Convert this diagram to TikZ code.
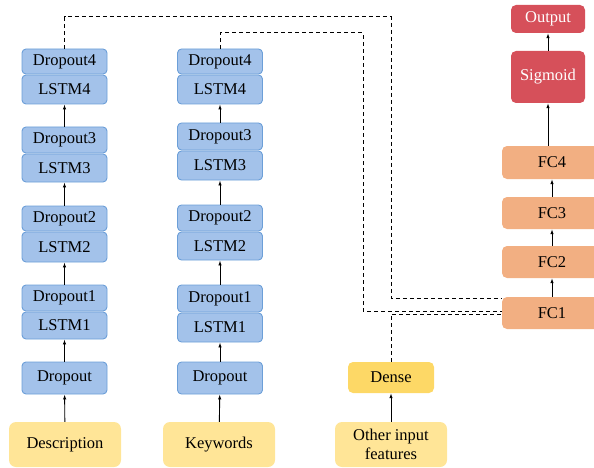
\documentclass[tikz,border=0pt]{standalone}
\usepackage{fontspec}
\setmainfont{Liberation Serif}
\usepackage{tikz}
\usetikzlibrary{arrows.meta}

\definecolor{lstmblue}{HTML}{A3C2EA}
\definecolor{lstmedge}{HTML}{6C9FD8}
\definecolor{fcorange}{HTML}{F2AF82}
\definecolor{outred}{HTML}{D6505A}
\definecolor{inyellow}{HTML}{FFE597}
\definecolor{denseyellow}{HTML}{FDD866}

\tikzset{
  layer/.style={draw=lstmedge, line width=0.9pt, fill=lstmblue, rounded corners=4pt,
                minimum width=85pt, inner sep=0pt},
  fcbox/.style={fill=fcorange, rounded corners=5pt, minimum width=100pt, minimum height=32pt, inner sep=0pt},
  redbox/.style={fill=outred, rounded corners=5pt, minimum width=74pt, inner sep=0pt, text=white},
  inbox/.style={fill=inyellow, rounded corners=7pt, minimum width=112pt, minimum height=45pt,
                inner sep=0pt, align=center},
  skip/.style={dashed, dash pattern=on 4pt off 3pt, line width=1pt},
  flow/.style={->, line width=0.9pt}
}

\begin{document}
\begin{tikzpicture}[x=1pt, y=-1pt, >={Latex[length=5pt,width=3.5pt]},
  font=\fontsize{16.5}{19}\selectfont]
\useasboundingbox (0,0) rectangle (594,468);

% description branch
\node[layer, minimum height=25pt] (dd4) at (64.5,61.5) {Dropout4};
\node[layer, minimum height=29pt] (dl4) at (64.5,89.5) {LSTM4};
\node[layer, minimum height=26pt] (dd3) at (64.5,140) {Dropout3};
\node[layer, minimum height=28pt] (dl3) at (64.5,168) {LSTM3};
\node[layer, minimum height=25pt] (dd2) at (64.5,218.5) {Dropout2};
\node[layer, minimum height=30pt] (dl2) at (64.5,247) {LSTM2};
\node[layer, minimum height=26pt] (dd1) at (64.5,298) {Dropout1};
\node[layer, minimum height=27pt] (dl1) at (64.5,325.5) {LSTM1};
\node[layer, minimum height=32pt] (dd0) at (64.5,378) {Dropout};
\node[inbox] (desc) at (65,444.5) {Description};

% keywords branch
\node[layer, minimum height=25pt] (kd4) at (220,61.5) {Dropout4};
\node[layer, minimum height=29pt] (kl4) at (220,89.5) {LSTM4};
\node[layer, minimum height=27pt] (kd3) at (220,136.5) {Dropout3};
\node[layer, minimum height=29pt] (kl3) at (220,165.5) {LSTM3};
\node[layer, minimum height=26pt] (kd2) at (220,218) {Dropout2};
\node[layer, minimum height=28pt] (kl2) at (220,246) {LSTM2};
\node[layer, minimum height=27pt] (kd1) at (220,298.5) {Dropout1};
\node[layer, minimum height=29pt] (kl1) at (220,327.5) {LSTM1};
\node[layer, minimum height=32pt] (kd0) at (220,378) {Dropout};
\node[inbox] (keyw) at (219,444.5) {Keywords};

% other features
\node[fill=denseyellow, rounded corners=5pt, minimum width=86pt, minimum height=31pt, inner sep=0pt]
  (dense) at (391,377.5) {Dense};
\node[inbox] (other) at (391,444.5) {Other input\\features};

% head
\node[redbox, minimum height=28pt] (out) at (548,19) {Output};
\node[redbox, minimum height=52pt] (sig) at (548,77) {Sigmoid};
\node[fcbox, minimum height=33pt] (fc4) at (552,162.5) {FC4};
\node[fcbox] (fc3) at (552,213) {FC3};
\node[fcbox] (fc2) at (552,262) {FC2};
\node[fcbox] (fc1) at (552,313) {FC1};

% arrows
\draw[flow] (desc) -- (dd0);
\draw[flow] (dd0) -- (dl1);
\draw[flow] (dd1) -- (dl2);
\draw[flow] (dd2) -- (dl3);
\draw[flow] (dd3) -- (dl4);
\draw[flow] (keyw) -- (kd0);
\draw[flow] (kd0) -- (kl1);
\draw[flow] (kd1) -- (kl2);
\draw[flow] (kd2) -- (kl3);
\draw[flow] (kd3) -- (kl4);
\draw[flow] (other) -- (dense);
\draw[flow] (fc1) -- (fc2);
\draw[flow] (fc2) -- (fc3);
\draw[flow] (fc3) -- (fc4);
\draw[flow] (fc4.north -| sig.south) -- (sig);
\draw[flow] (sig) -- (out);

% dashed skips to FC1
\draw[skip] (dd4.north) -- (64.5,17) -- (391,17) -- (391,298) -- (fc1.west |- 0,298);
\draw[skip] (kd4.north) -- (220,33) -- (363,33) -- (363,311) -- (fc1.west |- 0,311);
\draw[skip] (dense.north) -- (391,314) -- (fc1.west |- 0,314);
\end{tikzpicture}
\end{document}
